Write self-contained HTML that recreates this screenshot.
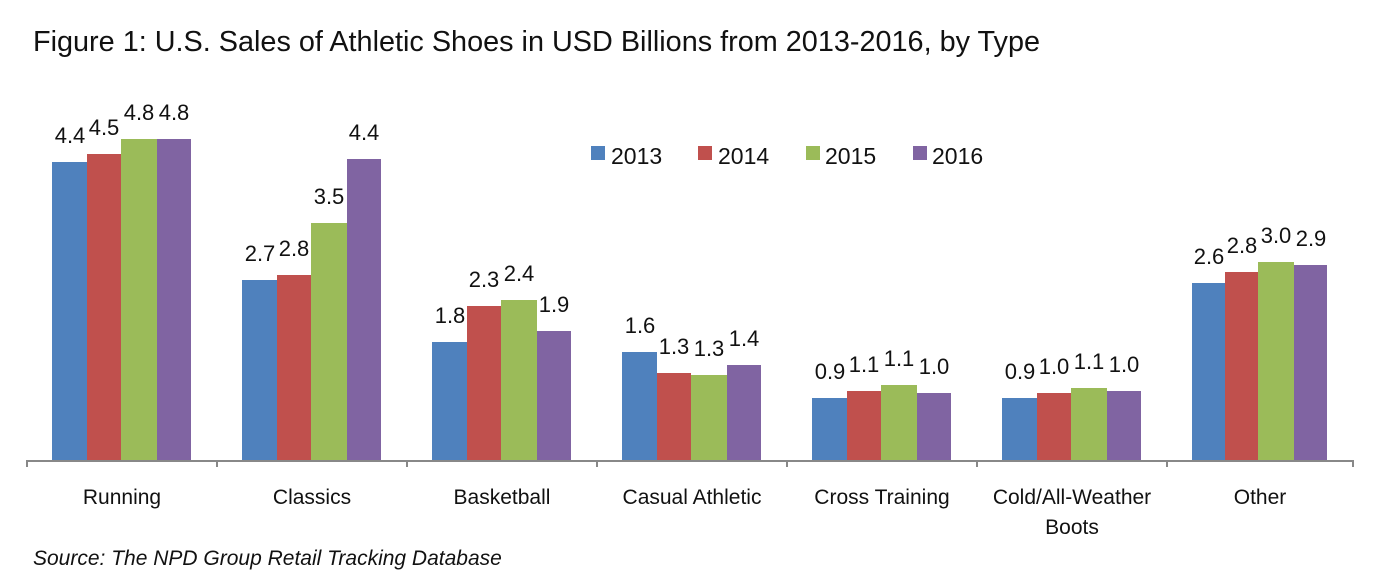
<!DOCTYPE html>
<html><head><meta charset="utf-8"><style>
html,body{margin:0;padding:0;background:#fff;}
svg{display:block;font-family:"Liberation Sans","DejaVu Sans",sans-serif;}
</style></head><body>
<svg width="1380" height="588" viewBox="0 0 1380 588" xmlns="http://www.w3.org/2000/svg">
<text x="33" y="51" font-size="29" fill="#111" textLength="1007" lengthAdjust="spacingAndGlyphs">Figure 1: U.S. Sales of Athletic Shoes in USD Billions from 2013-2016, by Type</text>
<g id="bars">
<rect x="52" y="162" width="35" height="299" fill="#4f81bd"/>
<rect x="87" y="154" width="34" height="307" fill="#c0504d"/>
<rect x="121" y="139" width="36" height="322" fill="#9bbb59"/>
<rect x="157" y="139" width="34" height="322" fill="#8064a2"/>
<rect x="242" y="280" width="35" height="181" fill="#4f81bd"/>
<rect x="277" y="275" width="34" height="186" fill="#c0504d"/>
<rect x="311" y="223" width="36" height="238" fill="#9bbb59"/>
<rect x="347" y="159" width="34" height="302" fill="#8064a2"/>
<rect x="432" y="342" width="35" height="119" fill="#4f81bd"/>
<rect x="467" y="306" width="34" height="155" fill="#c0504d"/>
<rect x="501" y="300" width="36" height="161" fill="#9bbb59"/>
<rect x="537" y="331" width="34" height="130" fill="#8064a2"/>
<rect x="622" y="352" width="35" height="109" fill="#4f81bd"/>
<rect x="657" y="373" width="34" height="88" fill="#c0504d"/>
<rect x="691" y="375" width="36" height="86" fill="#9bbb59"/>
<rect x="727" y="365" width="34" height="96" fill="#8064a2"/>
<rect x="812" y="398" width="35" height="63" fill="#4f81bd"/>
<rect x="847" y="391" width="34" height="70" fill="#c0504d"/>
<rect x="881" y="385" width="36" height="76" fill="#9bbb59"/>
<rect x="917" y="393" width="34" height="68" fill="#8064a2"/>
<rect x="1002" y="398" width="35" height="63" fill="#4f81bd"/>
<rect x="1037" y="393" width="34" height="68" fill="#c0504d"/>
<rect x="1071" y="388" width="36" height="73" fill="#9bbb59"/>
<rect x="1107" y="391" width="34" height="70" fill="#8064a2"/>
<rect x="1192" y="283" width="33" height="178" fill="#4f81bd"/>
<rect x="1225" y="272" width="33" height="189" fill="#c0504d"/>
<rect x="1258" y="262" width="36" height="199" fill="#9bbb59"/>
<rect x="1294" y="265" width="33" height="196" fill="#8064a2"/>
</g>
<g stroke="#888" stroke-width="2" fill="none">
<line x1="26" y1="461" x2="1354" y2="461"/>
<line x1="27" y1="461" x2="27" y2="467"/><line x1="217" y1="461" x2="217" y2="467"/>
<line x1="407" y1="461" x2="407" y2="467"/><line x1="597" y1="461" x2="597" y2="467"/>
<line x1="787" y1="461" x2="787" y2="467"/><line x1="977" y1="461" x2="977" y2="467"/>
<line x1="1167" y1="461" x2="1167" y2="467"/><line x1="1353" y1="461" x2="1353" y2="467"/>
</g>
<g font-size="22" fill="#111" text-anchor="middle">
<text x="70" y="143">4.4</text><text x="104" y="135">4.5</text><text x="139" y="120">4.8</text><text x="174" y="120">4.8</text>
<text x="260" y="261">2.7</text><text x="294" y="256">2.8</text><text x="329" y="204">3.5</text><text x="364" y="140">4.4</text>
<text x="450" y="323">1.8</text><text x="484" y="287">2.3</text><text x="519" y="281">2.4</text><text x="554" y="312">1.9</text>
<text x="640" y="333">1.6</text><text x="674" y="354">1.3</text><text x="709" y="356">1.3</text><text x="744" y="346">1.4</text>
<text x="830" y="379">0.9</text><text x="864" y="372">1.1</text><text x="899" y="366">1.1</text><text x="934" y="374">1.0</text>
<text x="1020" y="379">0.9</text><text x="1054" y="374">1.0</text><text x="1089" y="369">1.1</text><text x="1124" y="372">1.0</text>
<text x="1209" y="264">2.6</text><text x="1242" y="253">2.8</text><text x="1276" y="243">3.0</text><text x="1311" y="246">2.9</text>
</g>
<g font-size="21" fill="#111" text-anchor="middle">
<text x="122" y="504">Running</text>
<text x="312" y="504">Classics</text>
<text x="502" y="504">Basketball</text>
<text x="692" y="504">Casual Athletic</text>
<text x="882" y="504">Cross Training</text>
<text x="1072" y="504">Cold/All-Weather</text>
<text x="1072" y="534">Boots</text>
<text x="1260" y="504">Other</text>
</g>
<g font-size="23" fill="#111">
<rect x="591" y="146" width="14" height="14" fill="#4f81bd"/><text x="611" y="164">2013</text>
<rect x="698" y="146" width="14" height="14" fill="#c0504d"/><text x="718" y="164">2014</text>
<rect x="806" y="146" width="14" height="14" fill="#9bbb59"/><text x="825" y="164">2015</text>
<rect x="913" y="146" width="14" height="14" fill="#8064a2"/><text x="932" y="164">2016</text>
</g>
<text x="33" y="565" font-size="21" font-style="italic" fill="#111">Source: The NPD Group Retail Tracking Database</text>
</svg>
</body></html>
